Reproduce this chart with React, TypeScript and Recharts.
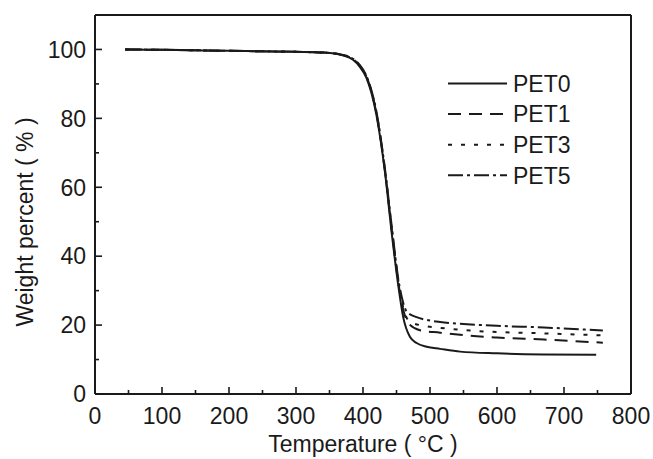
import { LineChart, Line, XAxis, YAxis, ReferenceLine, Legend, Label } from 'recharts';

const FONT = 'Arial, "Liberation Sans", sans-serif';
const INK = '#1a1a1a';

// temperatures (°C) and weight percent
const pet0Temp = [45, 100, 200, 300, 340, 365, 385, 395, 405, 420, 433, 443, 453, 460, 470, 480, 495, 515, 545, 600, 670, 748];
const pet0Weight = [100, 99.9, 99.6, 99.3, 99.1, 98.5, 97, 95, 91.8, 81, 64, 46.5, 31, 22.3, 16.6, 14.8, 13.7, 13.1, 12.3, 11.8, 11.5, 11.4];

const pet1Temp = [45, 100, 200, 300, 340, 365, 385, 395, 405, 420, 433, 443, 453, 460, 468, 485, 515, 560, 600, 670, 758];
const pet1Weight = [100, 99.9, 99.6, 99.3, 99.1, 98.6, 97.2, 95.3, 92.2, 81.5, 64.5, 47.5, 32, 24.5, 20.5, 18.5, 17.8, 16.9, 16.4, 15.8, 14.9];

const pet3Temp = [45, 100, 200, 300, 340, 365, 385, 395, 405, 420, 433, 443, 453, 460, 470, 490, 515, 560, 600, 670, 758];
const pet3Weight = [100, 99.9, 99.6, 99.3, 99.1, 98.6, 97.2, 95.3, 92.2, 81.5, 64.5, 47.8, 32.5, 25, 21, 19.8, 19.2, 18.4, 18, 17.6, 17];

const pet5Temp = [45, 100, 200, 300, 340, 365, 385, 395, 405, 420, 433, 443, 453, 458, 465, 480, 495, 515, 545, 600, 670, 758];
const pet5Weight = [100, 99.9, 99.6, 99.3, 99.1, 98.6, 97.3, 95.5, 92.4, 82, 65, 48.5, 33, 28, 24, 22.3, 21.5, 20.9, 20.4, 19.8, 19.3, 18.4];

const xTicks = [0, 50, 100, 150, 200, 250, 300, 350, 400, 450, 500, 550, 600, 650, 700, 750, 800];
const yTicks = [0, 10, 20, 30, 40, 50, 60, 70, 80, 90, 100];

const toPoints = (t: number[], w: number[]) => t.map((v, i) => ({ t: v, w: w[i] }));

const series = [
  { name: 'PET0', data: toPoints(pet0Temp, pet0Weight), dash: undefined as string | undefined },
  { name: 'PET1', data: toPoints(pet1Temp, pet1Weight), dash: '13 8' },
  { name: 'PET3', data: toPoints(pet3Temp, pet3Weight), dash: '4 9' },
  { name: 'PET5', data: toPoints(pet5Temp, pet5Weight), dash: '15 4 3 4' },
];

function XTick(props: any) {
  const { x, y, payload } = props;
  const major = payload.value % 100 === 0;
  return (
    <g>
      <line x1={x} x2={x} y1={y} y2={y - (major ? 7 : 4)} stroke={INK} strokeWidth={1.6} />
      {major && (
        <text x={x} y={y + 30} textAnchor="middle" fontSize={23} fill={INK} fontFamily={FONT}>
          {payload.value}
        </text>
      )}
    </g>
  );
}

function YTick(props: any) {
  const { x, y, payload } = props;
  const major = payload.value % 20 === 0;
  return (
    <g>
      <line x1={x} x2={x + (major ? 7 : 4)} y1={y} y2={y} stroke={INK} strokeWidth={1.6} />
      {major && (
        <text x={x - 9} y={y} dy="0.36em" textAnchor="end" fontSize={23} fill={INK} fontFamily={FONT}>
          {payload.value}
        </text>
      )}
    </g>
  );
}

function LegendBox() {
  return (
    <svg width={150} height={125}>
      {series.map((s, i) => {
        const cy = 15.5 + i * 30.6;
        return (
          <g key={s.name}>
            <line x1={0} x2={59} y1={cy} y2={cy} stroke={INK} strokeWidth={2} strokeDasharray={s.dash} />
            <text x={65} y={cy} dy="0.36em" fontSize={23} fill={INK} fontFamily={FONT}>
              {s.name}
            </text>
          </g>
        );
      })}
    </svg>
  );
}

export default function App() {
  return (
    <div style={{ position: 'absolute', left: 0, top: 0, background: '#fff' }}>
      <LineChart width={653} height={459} margin={{ top: 15, right: 22, bottom: 5, left: 0 }}>
        <XAxis
          type="number"
          dataKey="t"
          domain={[0, 800]}
          ticks={xTicks}
          interval={0}
          tickSize={0}
          tickMargin={0}
          tickLine={false}
          tick={<XTick />}
          height={60}
          axisLine={{ stroke: INK, strokeWidth: 2 }}
          allowDuplicatedCategory={false}
        >
          <Label
            content={() => (
              <text x={363} y={452} textAnchor="middle" fontSize={23} fill={INK} fontFamily={FONT}>
                Temperature ( °C )
              </text>
            )}
          />
        </XAxis>
        <YAxis
          type="number"
          domain={[0, 110]}
          ticks={yTicks}
          interval={0}
          tickSize={0}
          tickMargin={0}
          tickLine={false}
          tick={<YTick />}
          width={95}
          axisLine={{ stroke: INK, strokeWidth: 2 }}
        >
          <Label
            content={() => (
              <text
                x={25}
                y={222}
                transform="rotate(-90, 25, 222)"
                textAnchor="middle"
                dy="0.36em"
                fontSize={23}
                fill={INK}
                fontFamily={FONT}
              >
                Weight percent ( % )
              </text>
            )}
          />
        </YAxis>
        <ReferenceLine y={110} stroke={INK} strokeWidth={2} />
        <ReferenceLine x={800} stroke={INK} strokeWidth={2} />
        {series.map((s) => (
          <Line
            key={s.name}
            data={s.data}
            dataKey="w"
            name={s.name}
            type="monotone"
            stroke={INK}
            strokeWidth={2}
            strokeDasharray={s.dash}
            dot={false}
            activeDot={false}
            isAnimationActive={false}
          />
        ))}
        <Legend
          layout="vertical"
          align="center"
          verticalAlign="middle"
          content={() => <LegendBox />}
          wrapperStyle={{ position: 'absolute', left: 448, top: 68, width: 150, height: 125 }}
        />
      </LineChart>
    </div>
  );
}
